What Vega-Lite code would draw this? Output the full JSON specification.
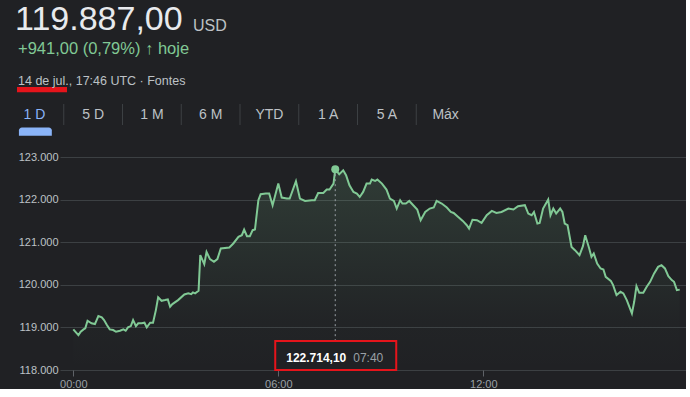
{
  "$schema": "https://vega.github.io/schema/vega-lite/v6.json",
  "background": "#202124",
  "padding": {"left": 5, "top": 3, "right": 0, "bottom": 0},
  "spacing": 0,
  "config": {
    "view": {"stroke": null},
    "font": "Liberation Sans",
    "title": {"font": "Liberation Sans", "subtitleFont": "Liberation Sans", "anchor": "start", "offset": 0, "fontWeight": "normal", "frame": "group"},
    "text": {"font": "Liberation Sans"}
  },
  "vconcat": [
    {
      "hconcat": [
        {
          "width": 133, "height": 4,
          "title": {"text": "119.887,00", "fontSize": 34, "color": "#e8eaed", "dx": -45, "offset": 0},
          "data": {"values": []},
          "mark": "point",
          "encoding": {}
        },
        {
          "width": 60, "height": 4,
          "title": {"text": "USD", "fontSize": 16, "color": "#bdc1c6", "offset": 3.5},
          "data": {"values": []},
          "mark": "point",
          "encoding": {}
        }
      ],
      "spacing": 0,
      "bounds": "flush"
    },
    {
      "width": 50, "height": 16,
      "title": {
        "text": "+941,00 (0,79%) ↑ hoje",
        "fontSize": 16.5, "color": "#81c995", "dx": -42, "offset": 0,
        "subtitle": "14 de jul., 17:46 UTC · Fontes",
        "subtitleFontSize": 12.5, "subtitleColor": "#bdc1c6", "subtitlePadding": 17
      },
      "data": {"values": [{"k": "sublinhado"}]},
      "mark": {"type": "rect", "color": "#e5141b", "xOffset": -43},
      "encoding": {
        "x": {"field": "k", "type": "nominal", "axis": null, "scale": {"paddingInner": 0, "paddingOuter": 0}},
        "y": {"field": "k", "type": "nominal", "axis": null, "scale": {"paddingInner": 0, "paddingOuter": 2.1667, "align": 0}}
      }
    },
    {
      "width": 470, "height": 21,
      "data": {"values": [{"tab": "1 D"}, {"tab": "5 D"}, {"tab": "1 M"}, {"tab": "6 M"}, {"tab": "YTD"}, {"tab": "1 A"}, {"tab": "5 A"}, {"tab": "Máx"}]},
      "layer": [
        {
          "transform": [{"filter": "datum.tab !== '1 D'"}],
          "mark": {"type": "rule", "color": "#3c4043", "strokeWidth": 1, "xOffset": -55},
          "encoding": {
            "x": {"field": "tab", "type": "nominal", "bandPosition": 0, "axis": null,
                  "scale": {"domain": ["1 D", "5 D", "1 M", "6 M", "YTD", "1 A", "5 A", "Máx"], "paddingInner": 0, "paddingOuter": 0}}
          }
        },
        {
          "mark": {"type": "text", "fontSize": 14, "baseline": "middle", "dx": -55},
          "encoding": {
            "x": {"field": "tab", "type": "nominal", "axis": null,
                  "scale": {"domain": ["1 D", "5 D", "1 M", "6 M", "YTD", "1 A", "5 A", "Máx"], "paddingInner": 0, "paddingOuter": 0}},
            "text": {"field": "tab"},
            "color": {"condition": {"test": "datum.tab === '1 D'", "value": "#8ab4f8"}, "value": "#bdc1c6"}
          }
        }
      ]
    },
    {
      "width": 470, "height": 25,
      "data": {"values": [{"tab": "1 D"}]},
      "mark": {"type": "rect", "color": "#8ab4f8", "cornerRadiusTopLeft": 3, "cornerRadiusTopRight": 3, "xOffset": -54},
      "encoding": {
        "x": {"field": "tab", "type": "nominal", "axis": null,
              "scale": {"domain": ["1 D", "5 D", "1 M", "6 M", "YTD", "1 A", "5 A", "Máx"], "paddingInner": 0.44, "paddingOuter": 0.22}},
        "y": {"field": "tab", "type": "nominal", "axis": null, "scale": {"paddingInner": 0, "paddingOuter": 3.6667, "align": 0.091}}
      }
    },
    {
      "width": 626, "height": 213,
      "data": {
        "format": {"parse": {"t": "utc:'%H:%M'"}},
        "values": [
          {"t": "00:00", "v": 118954}, {"t": "00:09", "v": 118820}, {"t": "00:13", "v": 118898}, {"t": "00:18", "v": 118954},
          {"t": "00:21", "v": 118977}, {"t": "00:25", "v": 119156}, {"t": "00:32", "v": 119095}, {"t": "00:38", "v": 119078},
          {"t": "00:44", "v": 119266}, {"t": "00:50", "v": 119235}, {"t": "00:54", "v": 119172}, {"t": "00:59", "v": 119055},
          {"t": "01:04", "v": 118954}, {"t": "01:10", "v": 118938}, {"t": "01:15", "v": 118898}, {"t": "01:22", "v": 118921},
          {"t": "01:28", "v": 118954}, {"t": "01:32", "v": 118921}, {"t": "01:36", "v": 119001}, {"t": "01:41", "v": 119031},
          {"t": "01:45", "v": 119172}, {"t": "01:50", "v": 119031}, {"t": "01:54", "v": 119095}, {"t": "02:00", "v": 119095},
          {"t": "02:05", "v": 119109}, {"t": "02:09", "v": 119001}, {"t": "02:15", "v": 119109}, {"t": "02:20", "v": 119109},
          {"t": "02:25", "v": 119406}, {"t": "02:29", "v": 119704}, {"t": "02:35", "v": 119624}, {"t": "02:41", "v": 119641},
          {"t": "02:46", "v": 119657}, {"t": "02:50", "v": 119484}, {"t": "02:54", "v": 119547}, {"t": "03:04", "v": 119641},
          {"t": "03:15", "v": 119774}, {"t": "03:22", "v": 119798}, {"t": "03:27", "v": 119781}, {"t": "03:30", "v": 119821},
          {"t": "03:34", "v": 119798}, {"t": "03:40", "v": 119859}, {"t": "03:43", "v": 120696}, {"t": "03:50", "v": 120485},
          {"t": "03:54", "v": 120773}, {"t": "04:00", "v": 120602}, {"t": "04:07", "v": 120539}, {"t": "04:13", "v": 120602},
          {"t": "04:19", "v": 120853}, {"t": "04:34", "v": 120876}, {"t": "04:41", "v": 120970}, {"t": "04:50", "v": 121125},
          {"t": "04:56", "v": 121164}, {"t": "05:00", "v": 121298}, {"t": "05:05", "v": 121141}, {"t": "05:10", "v": 121141},
          {"t": "05:15", "v": 121282}, {"t": "05:19", "v": 121298}, {"t": "05:25", "v": 121985}, {"t": "05:29", "v": 122125},
          {"t": "05:38", "v": 122142}, {"t": "05:44", "v": 122142}, {"t": "05:50", "v": 121868}, {"t": "06:00", "v": 122376},
          {"t": "06:06", "v": 122048}, {"t": "06:15", "v": 122025}, {"t": "06:20", "v": 122025}, {"t": "06:31", "v": 122430},
          {"t": "06:38", "v": 122025}, {"t": "06:47", "v": 121968}, {"t": "06:59", "v": 121985}, {"t": "07:04", "v": 121985},
          {"t": "07:10", "v": 122156}, {"t": "07:19", "v": 122156}, {"t": "07:25", "v": 122236}, {"t": "07:30", "v": 122236},
          {"t": "07:37", "v": 122376}, {"t": "07:40", "v": 122714.1}, {"t": "07:47", "v": 122594}, {"t": "07:54", "v": 122688},
          {"t": "07:59", "v": 122571}, {"t": "08:05", "v": 122336}, {"t": "08:12", "v": 122180}, {"t": "08:18", "v": 122142},
          {"t": "08:23", "v": 122062}, {"t": "08:29", "v": 122180}, {"t": "08:35", "v": 122376}, {"t": "08:41", "v": 122376},
          {"t": "08:44", "v": 122470}, {"t": "08:50", "v": 122437}, {"t": "08:54", "v": 122470}, {"t": "09:02", "v": 122376},
          {"t": "09:10", "v": 122236}, {"t": "09:16", "v": 122025}, {"t": "09:23", "v": 121968}, {"t": "09:28", "v": 121790},
          {"t": "09:34", "v": 121985}, {"t": "09:38", "v": 121907}, {"t": "09:44", "v": 121907}, {"t": "09:50", "v": 121968},
          {"t": "09:57", "v": 121868}, {"t": "10:04", "v": 121767}, {"t": "10:10", "v": 121516}, {"t": "10:18", "v": 121711},
          {"t": "10:26", "v": 121790}, {"t": "10:33", "v": 121814}, {"t": "10:38", "v": 121968}, {"t": "10:47", "v": 121907},
          {"t": "10:56", "v": 121814}, {"t": "11:03", "v": 121711}, {"t": "11:08", "v": 121687}, {"t": "11:16", "v": 121593},
          {"t": "11:24", "v": 121500}, {"t": "11:31", "v": 121399}, {"t": "11:35", "v": 121321}, {"t": "11:41", "v": 121528},
          {"t": "11:49", "v": 121516}, {"t": "11:57", "v": 121453}, {"t": "12:06", "v": 121633}, {"t": "12:15", "v": 121734},
          {"t": "12:23", "v": 121687}, {"t": "12:32", "v": 121710}, {"t": "12:44", "v": 121790}, {"t": "12:53", "v": 121767},
          {"t": "13:01", "v": 121844}, {"t": "13:13", "v": 121868}, {"t": "13:19", "v": 121673}, {"t": "13:25", "v": 121633},
          {"t": "13:29", "v": 121710}, {"t": "13:35", "v": 121439}, {"t": "13:39", "v": 121453}, {"t": "13:45", "v": 121790},
          {"t": "13:54", "v": 122001}, {"t": "13:58", "v": 121633}, {"t": "14:03", "v": 121790}, {"t": "14:08", "v": 121673},
          {"t": "14:15", "v": 121790}, {"t": "14:19", "v": 121710}, {"t": "14:23", "v": 121439}, {"t": "14:28", "v": 121399},
          {"t": "14:35", "v": 120890}, {"t": "14:41", "v": 120813}, {"t": "14:49", "v": 120696}, {"t": "14:55", "v": 120907},
          {"t": "14:59", "v": 121164}, {"t": "15:06", "v": 120853}, {"t": "15:10", "v": 120656}, {"t": "15:14", "v": 120735},
          {"t": "15:20", "v": 120501}, {"t": "15:26", "v": 120384}, {"t": "15:31", "v": 120360}, {"t": "15:35", "v": 120187},
          {"t": "15:44", "v": 120093}, {"t": "15:48", "v": 119992}, {"t": "15:54", "v": 119758}, {"t": "16:01", "v": 119835},
          {"t": "16:06", "v": 119798}, {"t": "16:12", "v": 119641}, {"t": "16:21", "v": 119329}, {"t": "16:25", "v": 119601},
          {"t": "16:29", "v": 119969}, {"t": "16:34", "v": 119812}, {"t": "16:41", "v": 119812}, {"t": "16:47", "v": 119953},
          {"t": "16:53", "v": 120070}, {"t": "17:00", "v": 120267}, {"t": "17:07", "v": 120421}, {"t": "17:13", "v": 120461},
          {"t": "17:19", "v": 120384}, {"t": "17:25", "v": 120203}, {"t": "17:31", "v": 120110}, {"t": "17:35", "v": 120070},
          {"t": "17:40", "v": 119875}, {"t": "17:45", "v": 119887}
        ]
      },
      "encoding": {
        "x": {
          "field": "t", "type": "temporal", "title": null,
          "scale": {"type": "utc", "domain": [
            {"year": 1899, "month": 12, "date": 31, "hours": 23, "minutes": 36, "seconds": 38, "utc": true},
            {"year": 1900, "month": 1, "date": 1, "hours": 17, "minutes": 56, "utc": true}
          ]},
          "axis": {
            "values": [
              {"year": 1900, "month": 1, "date": 1, "hours": 0, "utc": true},
              {"year": 1900, "month": 1, "date": 1, "hours": 6, "utc": true},
              {"year": 1900, "month": 1, "date": 1, "hours": 12, "utc": true}
            ],
            "labelExpr": "utcFormat(datum.value, '%H:%M')",
            "grid": false, "domain": false, "ticks": true, "tickSize": 6, "tickColor": "#5f6368",
            "labelPadding": 2, "labelFontSize": 11, "labelColor": "#9aa0a6", "labelFont": "Liberation Sans"
          }
        },
        "y": {
          "field": "v", "type": "quantitative", "title": null,
          "scale": {"domain": [118000, 123000], "zero": false, "nice": false},
          "axis": {
            "values": [118000, 119000, 120000, 121000, 122000, 123000],
            "labelExpr": "replace(format(datum.value, ',.0f'), ',', '.')",
            "grid": true, "gridColor": "#3c4043", "gridWidth": 1, "domain": false, "ticks": false,
            "labelPadding": 2, "minExtent": 55, "labelFontSize": 11, "labelColor": "#bdc1c6", "labelFont": "Liberation Sans"
          }
        }
      },
      "layer": [
        {
          "mark": {"type": "area", "opacity": 1, "color": {"gradient": "linear", "x1": 1, "y1": 1, "x2": 1, "y2": 0,
            "stops": [{"offset": 0, "color": "rgba(129,201,149,0)"}, {"offset": 0.25, "color": "rgba(129,201,149,0.02)"}, {"offset": 1, "color": "rgba(129,201,149,0.16)"}]}},
          "encoding": {"y2": {"datum": 118000}}
        },
        {
          "mark": {"type": "line", "color": "#81c995", "strokeWidth": 2},
          "encoding": {}
        },
        {
          "data": {"format": {"parse": {"t": "utc:'%H:%M'"}}, "values": [{"t": "07:40", "v": 122714.1, "preco": "122.714,10", "hora": "07:40"}]},
          "layer": [
            {
              "mark": {"type": "rule", "color": "#9aa0a6", "strokeDash": [2, 3], "strokeWidth": 1},
              "encoding": {"y2": {"value": "height"}}
            },
            {
              "mark": {"type": "point", "filled": true, "size": 64, "color": "#81c995", "opacity": 1},
              "encoding": {}
            },
            {
              "mark": {"type": "rect", "fill": "#202124", "stroke": "#e5141b", "strokeWidth": 2, "xOffset": -60, "x2Offset": 61, "yOffset": -29},
              "encoding": {"x2": {"field": "t"}, "y": {"value": "height"}, "y2": {"value": "height"}}
            },
            {
              "mark": {"type": "text", "color": "#ffffff", "fontSize": 12, "fontWeight": "bold", "dx": -19, "dy": -12, "baseline": "middle"},
              "encoding": {"y": {"value": "height"}, "text": {"field": "preco"}}
            },
            {
              "mark": {"type": "text", "color": "#9aa0a6", "fontSize": 12, "dx": 33, "dy": -12, "baseline": "middle"},
              "encoding": {"y": {"value": "height"}, "text": {"field": "hora"}}
            }
          ]
        }
      ]
    }
  ]
}
